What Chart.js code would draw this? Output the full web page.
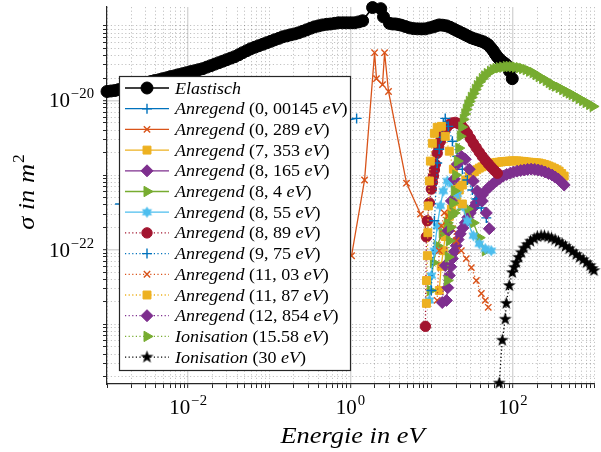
<!DOCTYPE html>
<html>
<head>
<meta charset="utf-8">
<title>Wirkungsquerschnitte</title>
<script src="https://cdn.jsdelivr.net/npm/chart.js@4.4.1/dist/chart.umd.min.js"></script>
<style>
  html, body { margin: 0; padding: 0; background: #ffffff; overflow: hidden; }
  canvas { display: block; }
</style>
</head>
<body>
<canvas id="plot" width="601" height="452"></canvas>
<script>
// ---- Cross sections: energy in eV, sigma in m^2 ----
const elastE = [0.001, 0.00112, 0.00125, 0.0014, 0.00157, 0.00176, 0.00197, 0.0022, 0.00247, 0.0028,
  0.0031, 0.0035, 0.00388, 0.0044, 0.00487, 0.0055, 0.00611, 0.0069, 0.00766, 0.0086,
  0.0096, 0.0108, 0.0121, 0.0135, 0.0151, 0.017, 0.019, 0.0213, 0.0238, 0.0267,
  0.0298, 0.0334, 0.0374, 0.042, 0.0469, 0.0527, 0.0589, 0.066, 0.0738, 0.083,
  0.0927, 0.104, 0.116, 0.131, 0.146, 0.164, 0.183, 0.205, 0.229, 0.257,
  0.288, 0.323, 0.361, 0.405, 0.453, 0.51, 0.568, 0.64, 0.712, 0.80,
  0.893, 1.0, 1.12, 1.26, 1.41, 1.87, 2.36, 2.55, 3.02, 3.3,
  3.58, 3.9, 4.24, 4.75, 5.32, 5.95, 6.67, 7.5, 8.37, 9.4,
  10.5, 11.4, 12.4, 13.7, 15.2, 16.8, 18.5, 20.1, 21.9, 23.9,
  26.0, 28.3, 30.8, 33.5, 36.5, 39.7, 43.2, 46.4, 49.8, 53.5,
  57.4, 60.8, 64.3, 68.1, 72.0, 77.5, 83.0, 90.5, 98.4];
const elastS = [1.32e-20, 1.34e-20, 1.36e-20, 1.40e-20, 1.45e-20, 1.50e-20, 1.54e-20, 1.58e-20, 1.63e-20, 1.68e-20,
  1.74e-20, 1.80e-20, 1.85e-20, 1.90e-20, 1.96e-20, 2.02e-20, 2.09e-20, 2.15e-20, 2.22e-20, 2.29e-20,
  2.36e-20, 2.44e-20, 2.51e-20, 2.59e-20, 2.67e-20, 2.80e-20, 2.93e-20, 3.07e-20, 3.21e-20, 3.36e-20,
  3.52e-20, 3.69e-20, 3.86e-20, 4.10e-20, 4.37e-20, 4.65e-20, 4.93e-20, 5.17e-20, 5.41e-20, 5.66e-20,
  5.93e-20, 6.20e-20, 6.50e-20, 6.80e-20, 7.13e-20, 7.35e-20, 7.59e-20, 7.80e-20, 8.07e-20, 8.45e-20,
  8.85e-20, 9.30e-20, 9.70e-20, 1.00e-19, 1.03e-19, 1.05e-19, 1.06e-19, 1.08e-19, 1.10e-19, 1.10e-19,
  1.10e-19, 1.10e-19, 1.10e-19, 1.13e-19, 1.17e-19, 1.76e-19, 1.70e-19, 1.32e-19, 1.08e-19, 1.06e-19,
  1.06e-19, 1.04e-19, 1.02e-19, 9.8e-20, 9.4e-20, 9.2e-20, 9.12e-20, 9.1e-20, 9.12e-20, 9.4e-20,
  9.70e-20, 1.00e-19, 1.03e-19, 1.02e-19, 1.00e-19, 9.6e-20, 9.12e-20, 8.7e-20, 8.32e-20, 7.95e-20,
  7.59e-20, 7.25e-20, 6.92e-20, 6.70e-20, 6.50e-20, 6.30e-20, 6.12e-20, 5.85e-20, 5.58e-20, 5.10e-20,
  4.64e-20, 4.20e-20, 3.86e-20, 3.60e-20, 3.41e-20, 3.20e-20, 3.02e-20, 2.50e-20, 1.96e-20];

const exc00145E = [0.00145, 0.002, 0.005, 0.01, 0.03, 0.1, 0.3, 0.7, 1.19];
const exc00145S = [4.1e-22, 9.0e-22, 1.5e-21, 2.0e-21, 2.6e-21, 3.3e-21, 4.2e-21, 5.1e-21, 5.75e-21];

const exc0289E = [0.32, 0.5, 0.75, 1.03, 1.49, 1.98, 2.09, 2.48, 2.63, 2.94, 4.9, 7.28, 8.9];
const exc0289S = [3.0e-23, 4.5e-23, 6.5e-23, 8.3e-23, 8.6e-22, 4.37e-20, 1.96e-20, 1.63e-20, 4.37e-20, 1.32e-20, 7.8e-22, 3.0e-22, 1.69e-22];

const exc7353E = [12.4, 13.1, 13.9, 14.7, 15.6, 16.5, 17.5, 18.8, 20.1, 21.9,
  23.9, 26.3, 29.1, 31.2, 33.5, 36, 38.6, 41.5, 44.5, 47.8,
  51.3, 55, 59, 63.4, 68, 72.8, 78, 84, 90.3, 97,
  104, 112, 120, 129, 138, 148, 159, 171, 183, 197,
  211, 228, 245, 262, 280, 302, 325, 348, 372, 400, 429];
const exc7353S = [2.84e-23, 6.0e-23, 9.7e-23, 1.5e-22, 2.09e-22, 2.8e-22, 3.52e-22, 4.4e-22, 5.25e-22, 6.3e-22,
  7.36e-22, 8.6e-22, 9.7e-22, 1.04e-21, 1.11e-21, 1.18e-21, 1.24e-21, 1.29e-21, 1.33e-21, 1.37e-21,
  1.40e-21, 1.43e-21, 1.46e-21, 1.48e-21, 1.49e-21, 1.51e-21, 1.52e-21, 1.53e-21, 1.54e-21, 1.55e-21,
  1.55e-21, 1.55e-21, 1.54e-21, 1.53e-21, 1.52e-21, 1.50e-21, 1.49e-21, 1.48e-21, 1.47e-21, 1.46e-21,
  1.45e-21, 1.42e-21, 1.39e-21, 1.36e-21, 1.32e-21, 1.28e-21, 1.23e-21, 1.18e-21, 1.13e-21, 1.05e-21, 9.7e-22];

const exc8165E = [15.2, 15.8, 16.5, 17.2, 18.0, 19.0, 20.1, 21.2, 22.5, 24.2,
  26.0, 27.9, 29.9, 32.6, 35.5, 38.6, 42.0, 46.5, 51.3, 56.5,
  62.5, 69, 76.2, 84, 92.9, 102, 113, 125, 138, 152,
  168, 186, 205, 226, 250, 276, 305, 333, 362, 395, 429];
const exc8165S = [2.09e-23, 3.1e-23, 4.5e-23, 5.9e-23, 7.59e-23, 9.4e-23, 1.13e-22, 1.37e-22, 1.63e-22, 1.95e-22,
  2.29e-22, 2.7e-22, 3.11e-22, 3.65e-22, 4.23e-22, 4.8e-22, 5.41e-22, 6.2e-22, 6.92e-22, 7.6e-22,
  8.32e-22, 9.0e-22, 9.7e-22, 1.02e-21, 1.06e-21, 1.10e-21, 1.13e-21, 1.15e-21, 1.17e-21, 1.19e-21,
  1.20e-21, 1.19e-21, 1.17e-21, 1.14e-21, 1.10e-21, 1.05e-21, 1.0e-21, 9.4e-22, 8.85e-22, 8.1e-22, 7.36e-22];

const exc84E = [9.64, 10.5, 11.7, 13.5, 15.6, 19.0, 23.2, 27.5, 32.6, 38.6, 45.8];
const exc84S = [2.84e-23, 6.71e-23, 1.13e-22, 1.69e-22, 2.29e-22, 3.11e-22, 3.86e-22, 3.52e-22, 2.29e-22, 1.45e-22, 9.7e-23];

const exc855E = [9.37, 9.91, 10.8, 11.7, 12.8, 13.9, 15.6, 18.0, 20.7, 23.9, 27.5, 32.6, 38.6, 45.8, 54.2];
const exc855S = [2.09e-23, 4.5e-23, 9.7e-23, 2.09e-22, 3.86e-22, 6.12e-22, 8.32e-22, 7.59e-22, 5.58e-22, 3.86e-22, 2.44e-22, 1.54e-22, 1.20e-22, 1.03e-22, 9.7e-23];

const exc889E = [8.37, 8.61, 8.85, 9.37, 9.91, 10.2, 10.5, 10.8, 11.1, 11.7,
  12.2, 12.8, 13.5, 14.3, 15.3, 16.5, 17.9, 19.6, 21.3, 23.2,
  25.2, 27.5, 30, 32.6, 35.4, 38.6, 42, 45.8, 49.8, 54.2, 59, 64.3];
const exc889S = [9.4e-24, 1.49e-22, 2.44e-22, 4.23e-22, 6.5e-22, 8.0e-22, 9.7e-22, 1.17e-21, 1.40e-21, 1.96e-21,
  2.4e-21, 2.84e-21, 3.35e-21, 3.86e-21, 4.35e-21, 4.79e-21, 5.0e-21, 5.09e-21, 4.9e-21, 4.64e-21,
  4.15e-21, 3.63e-21, 3.1e-21, 2.67e-21, 2.33e-21, 2.03e-21, 1.78e-21, 1.58e-21, 1.42e-21, 1.28e-21, 1.16e-21, 1.06e-21];

const exc975E = [9.91, 10.8, 11.7, 12.4, 13.2, 13.9, 14.7, 16.0, 18.0, 20.7, 23.9, 27.5, 31.7, 35.5, 40.9, 47.1, 51.3];
const exc975S = [2.84e-23, 2.44e-22, 1.45e-21, 2.22e-21, 3.21e-21, 4.93e-21, 5.75e-21, 4.5e-21, 2.84e-21, 1.79e-21, 1.20e-21, 8.6e-22, 6.31e-22, 4.79e-22, 3.63e-22, 2.67e-22, 1.96e-22];

const exc1103E = [11.7, 12.4, 13.2, 14.3, 16.0, 18.0, 20.1, 23.2, 26.7, 30.8, 35.5, 40.9, 45.8, 49.8];
const exc1103S = [2.09e-23, 9.7e-23, 2.09e-22, 3.11e-22, 2.84e-22, 1.91e-22, 1.32e-22, 9.7e-23, 7.59e-23, 5.75e-23, 3.86e-23, 2.59e-23, 2.09e-23, 1.69e-23];

const exc1187E = [8.61, 8.65, 8.85, 8.97, 9.1, 9.37, 9.64, 10.2, 10.8, 11.7, 13.2, 14.7, 16.5, 18.5, 20.7, 23.9];
const exc1187S = [1.91e-23, 3.86e-23, 8.32e-23, 1.69e-22, 3.86e-22, 8.32e-22, 1.54e-21, 2.67e-21, 3.63e-21, 4.37e-21, 4.5e-21, 3.31e-21, 2.09e-21, 1.20e-21, 6.92e-22, 4.1e-22];

const exc12854E = [13.5, 14.7, 16.0, 17.5, 19.0, 20.7, 23.2, 26.0, 29.1, 32.6, 36.5, 42.0, 47.1, 51.3];
const exc12854S = [1.96e-23, 6.12e-23, 1.79e-22, 4.5e-22, 8.85e-22, 1.40e-21, 1.79e-21, 1.63e-21, 1.20e-21, 8.32e-22, 6.12e-22, 4.5e-22, 3.11e-22, 1.91e-22];

const ion1558E = [15.6, 16.0, 16.5, 17.0, 17.5, 18.2, 19.0, 19.8, 20.7, 21.6,
  22.5, 23.5, 24.5, 25.6, 26.7, 27.9, 29.1, 30.8, 32.6, 34.5,
  36.5, 39, 42.0, 45, 48.4, 53, 57.4, 62, 68.0, 75,
  83.0, 90, 98.4, 108, 120, 132, 146, 161, 178, 193,
  211, 233, 258, 281, 305, 336, 372, 412, 454, 495,
  538, 595, 656, 725, 800, 885, 975];
const ion1558S = [3.86e-23, 8.0e-23, 1.32e-22, 2.0e-22, 2.84e-22, 4.2e-22, 6.12e-22, 1.0e-21, 1.54e-21, 2.3e-21,
  3.31e-21, 4.4e-21, 5.58e-21, 6.6e-21, 7.59e-21, 8.7e-21, 9.7e-21, 1.1e-20, 1.24e-20, 1.41e-20,
  1.58e-20, 1.78e-20, 1.96e-20, 2.13e-20, 2.29e-20, 2.45e-20, 2.59e-20, 2.68e-20, 2.75e-20, 2.80e-20,
  2.84e-20, 2.85e-20, 2.84e-20, 2.80e-20, 2.75e-20, 2.68e-20, 2.59e-20, 2.47e-20, 2.36e-20, 2.22e-20,
  2.09e-20, 1.97e-20, 1.85e-20, 1.74e-20, 1.63e-20, 1.56e-20, 1.49e-20, 1.40e-20, 1.32e-20, 1.26e-20,
  1.20e-20, 1.13e-20, 1.06e-20, 1.0e-20, 9.4e-21, 8.85e-21, 8.32e-21];

const ion30E = [68, 74.1, 80.6, 83, 90.3, 98.4, 104, 110, 118, 127,
  137, 150, 165, 183, 200, 223, 245, 272, 300, 332,
  365, 405, 445, 494, 545, 603, 665, 735, 810, 895,
  950, 1000];
const ion30S = [1.63e-24, 6.12e-24, 1.17e-23, 1.91e-23, 3.31e-23, 4.93e-23, 5.8e-23, 6.71e-23, 7.9e-23, 9.12e-23,
  1.05e-22, 1.17e-22, 1.30e-22, 1.40e-22, 1.50e-22, 1.54e-22, 1.53e-22, 1.49e-22, 1.43e-22, 1.36e-22,
  1.28e-22, 1.20e-22, 1.11e-22, 1.03e-22, 9.4e-23, 8.6e-23, 7.9e-23, 7.36e-23, 6.7e-23, 6.12e-23,
  5.6e-23, 5.25e-23];

// Legend names and threshold energies
const seriesNames = ['Elastisch', 'Anregend', 'Anregend', 'Anregend', 'Anregend', 'Anregend', 'Anregend',
  'Anregend', 'Anregend', 'Anregend', 'Anregend', 'Anregend', 'Ionisation', 'Ionisation'];
const seriesThresholds = ['', '0, 00145', '0, 289', '7, 353', '8, 165', '8, 4', '8, 55',
  '8, 89', '9, 75', '11, 03', '11, 87', '12, 854', '15.58', '30'];
const seriesE = [elastE, exc00145E, exc0289E, exc7353E, exc8165E, exc84E, exc855E,
  exc889E, exc975E, exc1103E, exc1187E, exc12854E, ion1558E, ion30E];
const seriesS = [elastS, exc00145S, exc0289S, exc7353S, exc8165S, exc84S, exc855S,
  exc889S, exc975S, exc1103S, exc1187S, exc12854S, ion1558S, ion30S];

// Axis ranges and labelled decades
const xMin = 1e-3, xMax = 1e3;
const yMin = 1.585e-24, yMax = 1.79e-19;
const xTickExp = [-2, 0, 2];
const yTickExp = [-22, -20];

// ---- styling ----
const FAMILY = '"Liberation Serif", "DejaVu Serif", serif';

function starMarker(points, outer, inner, color) {
  const size = Math.ceil(outer * 2 + 3);
  const cv = document.createElement('canvas');
  cv.width = size; cv.height = size;
  const g = cv.getContext('2d');
  g.fillStyle = color;
  g.beginPath();
  for (let k = 0; k < points * 2; k++) {
    const r = (k % 2) ? inner : outer;
    const a = -Math.PI / 2 + k * Math.PI / points;
    const px = size / 2 + r * Math.cos(a), py = size / 2 + r * Math.sin(a);
    if (k === 0) g.moveTo(px, py); else g.lineTo(px, py);
  }
  g.closePath();
  g.fill();
  return cv;
}
const hexagram = starMarker(6, 5.8, 3.35, '#4DBEEE');
const pentagram = starMarker(5, 6.8, 2.7, '#000000');

const looks = [
  { color: '#000000', marker: 'circle',   r: 6,   bw: 1,   dotted: false, lw: 1.6 },
  { color: '#0072BD', marker: 'cross',    r: 5,   bw: 1.4, dotted: false, lw: 1.3 },
  { color: '#D95319', marker: 'crossRot', r: 4.5, bw: 1.4, dotted: false, lw: 1.3 },
  { color: '#EDB120', marker: 'rect',     r: 5.6, bw: 1,   dotted: false, lw: 1.3 },
  { color: '#7E2F8E', marker: 'rectRot',  r: 6,   bw: 1,   dotted: false, lw: 1.3 },
  { color: '#77AC30', marker: 'triangle', r: 6,   bw: 1,   dotted: false, lw: 1.3, rot: 90 },
  { color: '#4DBEEE', marker: hexagram,   r: 6,   bw: 1,   dotted: false, lw: 1.3 },
  { color: '#A2142F', marker: 'circle',   r: 5.2, bw: 1,   dotted: true,  lw: 1.3 },
  { color: '#0072BD', marker: 'cross',    r: 5,   bw: 1.4, dotted: true,  lw: 1.3 },
  { color: '#D95319', marker: 'crossRot', r: 4.5, bw: 1.4, dotted: true,  lw: 1.3 },
  { color: '#EDB120', marker: 'rect',     r: 5.6, bw: 1,   dotted: true,  lw: 1.3 },
  { color: '#7E2F8E', marker: 'rectRot',  r: 6,   bw: 1,   dotted: true,  lw: 1.3 },
  { color: '#77AC30', marker: 'triangle', r: 6,   bw: 1,   dotted: true,  lw: 1.3, rot: 90 },
  { color: '#000000', marker: pentagram,  r: 6,   bw: 1,   dotted: true,  lw: 1.3 }
];
const DOT = [1.2, 2.4];
const N = seriesE.length;

const datasets = seriesE.map((E, i) => {
  const lk = looks[i];
  return {
    label: seriesNames[i] + (seriesThresholds[i] ? ' (' + seriesThresholds[i] + ' eV)' : ''),
    data: E.map((e, k) => ({ x: e, y: seriesS[i][k] })),
    borderColor: lk.color,
    backgroundColor: lk.color,
    borderWidth: lk.lw,
    borderDash: lk.dotted ? DOT : [],
    pointStyle: lk.marker,
    pointRadius: lk.r,
    pointRotation: lk.rot || 0,
    pointBackgroundColor: lk.color,
    pointBorderColor: lk.color,
    pointBorderWidth: lk.bw,
    tension: 0,
    fill: false,
    clip: false,
    order: N - i
  };
});

// ---- log ticks: every mantissa 1..9 per decade ----
function logTicks(lo, hi) {
  const out = [];
  for (let k = Math.floor(Math.log10(lo)) - 1; k <= Math.ceil(Math.log10(hi)); k++) {
    for (let m = 1; m <= 9; m++) {
      const v = m * Math.pow(10, k);
      if (v >= lo * 0.9999 && v <= hi * 1.0001) out.push({ value: v });
    }
  }
  return out;
}
function isMajor(v, exps) {
  if (v === undefined) return false;
  const l = Math.log10(v);
  return exps.some(e => Math.abs(l - e) < 1e-6);
}
function gridFor(exps) {
  return {
    drawOnChartArea: true,
    drawTicks: true,
    tickLength: 4,
    tickColor: '#262626',
    tickWidth: 1,
    color: c => (c.tick && isMajor(c.tick.value, exps)) ? '#d6d6d6' : 'rgba(0,0,0,0.30)',
    lineWidth: c => (c.tick && isMajor(c.tick.value, exps)) ? 1.4 : 0.8
  };
}
function borderFor(exps) {
  return {
    display: true,
    color: '#262626',
    width: 1.2,
    dash: c => (c.tick && !isMajor(c.tick.value, exps)) ? DOT : []
  };
}

// ---- text helpers (math-style labels) ----
function fontOf(p) { return (p.i ? 'italic ' : '') + p.s + 'px ' + FAMILY; }
function drawRich(ctx, parts, x, y, align, stretch) {
  stretch = stretch || 1;
  let w = 0;
  for (const p of parts) { ctx.font = fontOf(p); p.w = ctx.measureText(p.t).width + (p.gap || 0); w += p.w; }
  const sw = w * stretch;
  const x0 = align === 'center' ? x - sw / 2 : (align === 'right' ? x - sw : x);
  ctx.save();
  ctx.translate(x0, y);
  ctx.scale(stretch, 1);
  ctx.textAlign = 'left';
  ctx.textBaseline = 'alphabetic';
  let ox = 0;
  for (const p of parts) {
    ctx.font = fontOf(p);
    ctx.fillText(p.t, ox + (p.gap || 0), p.dy || 0);
    ox += p.w;
  }
  ctx.restore();
}
function powerParts(exp) {
  const e = (exp < 0 ? '\u2212' : '') + Math.abs(exp);
  return [{ t: '10', s: 20 }, { t: e, s: 14, dy: -9, gap: 1 }];
}
function legendParts(i) {
  const parts = [{ t: seriesNames[i], s: 17, i: true }];
  if (seriesThresholds[i]) {
    parts.push({ t: ' (' + seriesThresholds[i] + ' ', s: 17 });
    parts.push({ t: 'eV', s: 17, i: true });
    parts.push({ t: ')', s: 17 });
  }
  return parts;
}

function drawMarker(ctx, lk, x, y) {
  ctx.save();
  ctx.fillStyle = lk.color;
  ctx.strokeStyle = lk.color;
  ctx.lineWidth = lk.bw;
  ctx.setLineDash([]);
  if (Chart.helpers && Chart.helpers.drawPoint) {
    Chart.helpers.drawPoint(ctx, { pointStyle: lk.marker, rotation: lk.rot || 0, radius: lk.r, borderWidth: lk.bw }, x, y);
  } else {
    ctx.beginPath(); ctx.arc(x, y, lk.r, 0, Math.PI * 2); ctx.fill();
  }
  ctx.restore();
}

const overlay = {
  id: 'overlay',
  afterDatasetsDraw(chart) {
    const ctx = chart.ctx;
    // legend box
    const bx = 119, by = 76, bw = 232, bh = 295;
    ctx.save();
    ctx.fillStyle = '#ffffff';
    ctx.fillRect(bx, by, bw, bh);
    ctx.strokeStyle = '#262626';
    ctx.lineWidth = 1.2;
    ctx.strokeRect(bx + 0.5, by + 0.5, bw - 1, bh - 1);
    for (let i = 0; i < N; i++) {
      const lk = looks[i];
      const cy = 88 + i * 20.7;
      ctx.save();
      ctx.strokeStyle = lk.color;
      ctx.lineWidth = lk.lw;
      ctx.setLineDash(lk.dotted ? DOT : []);
      ctx.beginPath();
      ctx.moveTo(125, cy);
      ctx.lineTo(169, cy);
      ctx.stroke();
      ctx.restore();
      drawMarker(ctx, lk, 147, cy);
      ctx.fillStyle = '#000000';
      drawRich(ctx, legendParts(i), 175, cy + 5.5, 'left', 1.06);
    }
    ctx.restore();
  },
  afterDraw(chart) {
    const ctx = chart.ctx;
    const xs = chart.scales.x, ys = chart.scales.y;
    ctx.save();
    ctx.fillStyle = '#000000';
    xTickExp.forEach(e => {
      drawRich(ctx, powerParts(e), xs.getPixelForValue(Math.pow(10, e)), 414, 'center', 1.05);
    });
    yTickExp.forEach(e => {
      drawRich(ctx, powerParts(e), 94, ys.getPixelForValue(Math.pow(10, e)) + 7, 'right', 1.05);
    });
    // axis titles
    drawRich(ctx, [
      { t: 'Energie', s: 24, i: true }, { t: ' in ', s: 24, i: true }, { t: 'eV', s: 24, i: true }
    ], (chart.chartArea.left + chart.chartArea.right) / 2 + 2, 443, 'center', 1.1);
    ctx.save();
    ctx.translate(34, 192);
    ctx.rotate(-Math.PI / 2);
    drawRich(ctx, [
      { t: '\u03C3', s: 24, i: true }, { t: ' in ', s: 24, i: true }, { t: 'm', s: 24, i: true },
      { t: '2', s: 16, dy: -10, gap: 1 }
    ], 0, 0, 'center', 1.1);
    ctx.restore();
    ctx.restore();
  }
};

new Chart(document.getElementById('plot'), {
  type: 'line',
  data: { datasets },
  options: {
    responsive: false,
    animation: false,
    devicePixelRatio: 1,
    layout: { padding: { left: 0, right: 6, top: 5, bottom: 0 } },
    events: [],
    scales: {
      x: {
        type: 'logarithmic',
        min: xMin, max: xMax,
        afterBuildTicks: s => { s.ticks = logTicks(xMin, xMax); },
        afterFit: s => { s.height = 68; },
        ticks: { display: false, autoSkip: false },
        grid: gridFor(xTickExp),
        border: borderFor(xTickExp)
      },
      y: {
        type: 'logarithmic',
        min: yMin, max: yMax,
        afterBuildTicks: s => { s.ticks = logTicks(yMin, yMax); },
        afterFit: s => { s.width = 107; },
        ticks: { display: false, autoSkip: false },
        grid: gridFor(yTickExp),
        border: borderFor(yTickExp)
      }
    },
    plugins: { legend: { display: false }, tooltip: { enabled: false } }
  },
  plugins: [overlay]
});
</script>
</body>
</html>
